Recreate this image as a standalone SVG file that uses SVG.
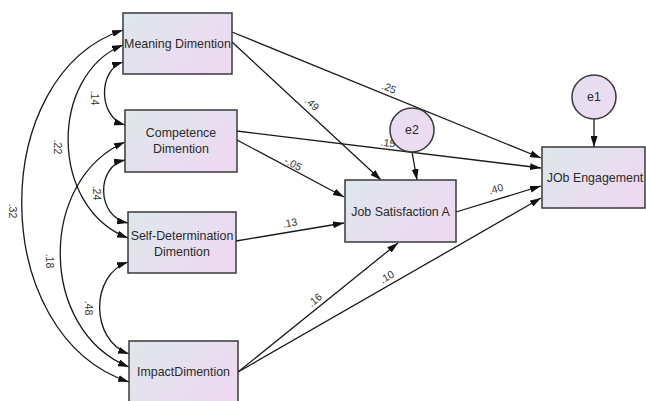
<svg xmlns="http://www.w3.org/2000/svg" width="646" height="401" viewBox="0 0 646 401">
<style>
.box{stroke:#3a3a3a;stroke-width:1.5;fill:url(#g)}
.circ{stroke:#3a3a3a;stroke-width:1.5;fill:url(#gc)}
.t{font-family:"Liberation Sans",Arial,sans-serif;font-size:12.4px;fill:#2a2a2a;text-anchor:middle}
.l{font-family:"Liberation Sans",Arial,sans-serif;font-size:10.5px;fill:#333;text-anchor:middle}
.c{fill:none;stroke:#1a1a1a;stroke-width:1.3;marker-end:url(#a)}
.cv{fill:none;stroke:#1a1a1a;stroke-width:1.3;marker-end:url(#a);marker-start:url(#a)}
</style>
<defs>
<linearGradient id="g" x1="0" y1="0.2" x2="1" y2="0.8">
<stop offset="0" stop-color="#dfe6ec"/>
<stop offset="1" stop-color="#eed8f2"/>
</linearGradient>
<linearGradient id="gc" x1="0" y1="0" x2="1" y2="1">
<stop offset="0" stop-color="#e4dcee"/>
<stop offset="1" stop-color="#f0dcf4"/>
</linearGradient>
<marker id="a" viewBox="0 0 11 7" refX="11" refY="3.5" markerWidth="11" markerHeight="7" markerUnits="userSpaceOnUse" orient="auto-start-reverse">
<path d="M0,0 L11,3.5 L0,7 z" fill="#111"/>
</marker>
</defs>
<rect width="646" height="401" fill="#fff"/>
<g id="connectors">
<line class="c" x1="232" y1="32" x2="541" y2="158"/>
<line class="c" x1="232" y1="42" x2="381" y2="180"/>
<line class="c" x1="237" y1="131" x2="541" y2="168"/>
<line class="c" x1="237" y1="140" x2="344" y2="197"/>
<line class="c" x1="236" y1="241" x2="344" y2="223"/>
<line class="c" x1="456" y1="212" x2="541" y2="186"/>
<line class="c" x1="238" y1="372" x2="398" y2="243"/>
<line class="c" x1="238" y1="372" x2="541" y2="198"/>
<line class="c" x1="594" y1="119" x2="594" y2="147"/>
<line class="c" x1="412" y1="152" x2="417" y2="180"/>
<path class="cv" d="M123,62 C98,70 98,117 125,125"/>
<path class="cv" d="M123,45 C49,75 49,208 128,238"/>
<path class="cv" d="M123,30 C-13,75 -13,335 129,382"/>
<path class="cv" d="M125,160 C96,166 96,217 128,223"/>
<path class="cv" d="M125,142 C38,180 38,330 129,367"/>
<path class="cv" d="M128,262 C90,275 90,340 129,354"/>
<text class="l" transform="translate(389,88) rotate(22)" y="3.5">.25</text>
<text class="l" transform="translate(312,104) rotate(43)" y="3.5">.49</text>
<text class="l" transform="translate(388,143) rotate(7)" y="3.5">.15</text>
<text class="l" transform="translate(293,164) rotate(28)" y="3.5">-.05</text>
<text class="l" transform="translate(290,223) rotate(-10)" y="3.5">.13</text>
<text class="l" transform="translate(496,189) rotate(-17)" y="3.5">.40</text>
<text class="l" transform="translate(315,300) rotate(-39)" y="3.5">.16</text>
<text class="l" transform="translate(387,277) rotate(-30)" y="3.5">.10</text>
<text class="l" transform="translate(94,98) rotate(90)" y="3.5">.14</text>
<text class="l" transform="translate(57,147) rotate(90)" y="3.5">.22</text>
<text class="l" transform="translate(12,211) rotate(90)" y="3.5">.32</text>
<text class="l" transform="translate(96,193) rotate(90)" y="3.5">.24</text>
<text class="l" transform="translate(49,261) rotate(90)" y="3.5">.18</text>
<text class="l" transform="translate(88,308) rotate(90)" y="3.5">.48</text>
</g>
<g id="meaning">
<rect class="box" x="123" y="13" width="109" height="61"/>
<text class="t" x="177.5" y="48">Meaning Dimention</text>
</g>
<g id="competence">
<rect class="box" x="125" y="110" width="112" height="62"/>
<text class="t" x="181" y="137">Competence</text>
<text class="t" x="181" y="153">Dimention</text>
</g>
<g id="selfdet">
<rect class="box" x="128" y="212" width="108" height="61"/>
<text class="t" x="182" y="240">Self-Determination</text>
<text class="t" x="182" y="256">Dimention</text>
</g>
<g id="impact">
<rect class="box" x="129" y="341" width="109" height="62"/>
<text class="t" x="183.5" y="376">ImpactDimention</text>
</g>
<g id="jobsat">
<rect class="box" x="345" y="180" width="111" height="62"/>
<text class="t" x="400.5" y="216">Job Satisfaction A</text>
</g>
<g id="jobeng">
<rect class="box" x="542" y="147" width="103" height="61"/>
<text class="t" x="595" y="182">JOb Engagement</text>
</g>
<g id="e1">
<circle class="circ" cx="594" cy="97" r="22"/>
<text class="t" x="594" y="101">e1</text>
</g>
<g id="e2">
<circle class="circ" cx="412" cy="130" r="22"/>
<text class="t" x="412" y="134">e2</text>
</g>
</svg>
